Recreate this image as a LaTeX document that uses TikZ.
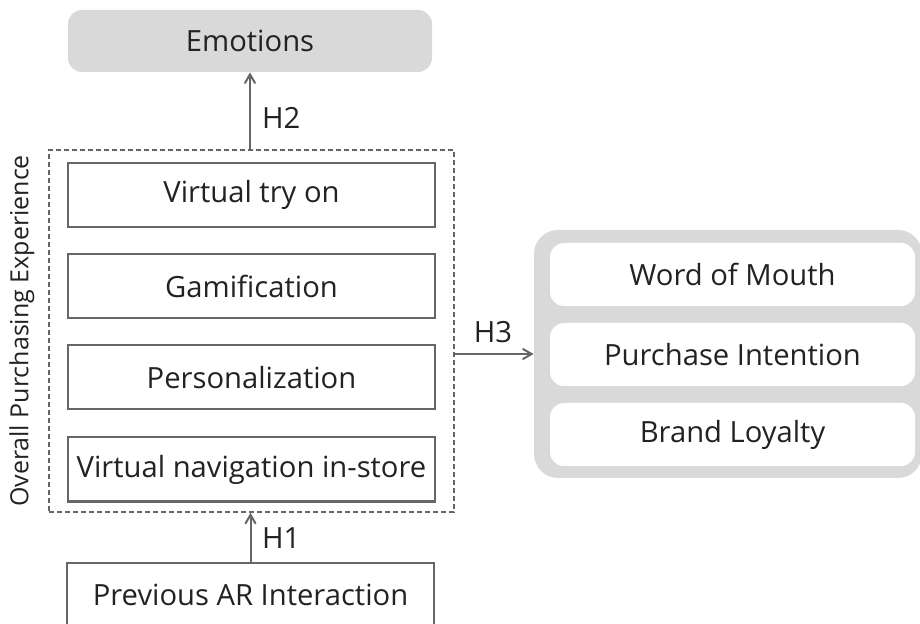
\documentclass[tikz,border=0pt]{standalone}
\usepackage{fontspec}
\setmainfont{Open Sans}
\usetikzlibrary{positioning}
\usetikzlibrary{arrows}
\definecolor{panelgray}{HTML}{D9D9D9}
\definecolor{edgegray}{HTML}{666666}
\definecolor{inkgray}{HTML}{222222}

\begin{document}
\begin{tikzpicture}[x=0.5pt,y=-0.5pt,
  font=\fontsize{14.6}{17}\selectfont, text=inkgray,
  factor/.style={draw=edgegray, line width=1pt, minimum width=183.5pt, minimum height=32pt, inner sep=0pt},
  outcome/.style={fill=white, rounded corners=7pt, minimum width=182.5pt, minimum height=31.5pt, inner sep=0pt},
  hyp/.style={draw=edgegray, line width=1pt, ->, >=angle 60}]

  \useasboundingbox (0,0) rectangle (920,624);

  % top and right panels
  \node[fill=panelgray, rounded corners=7pt, minimum width=182pt, minimum height=31pt, inner sep=0pt] (emo) at (250,41) {Emotions};
  \node[fill=panelgray, rounded corners=12pt, minimum width=194pt, minimum height=124pt, inner sep=0pt] (grp) at (728,354) {};

  \node[outcome] (wom) at (732.5,274.5) {Word of Mouth};
  \node[outcome] (pint) at (732.5,354.5) {Purchase Intention};
  \node[outcome] (loyal) at (732.5,434.5) {Brand Loyalty};

  % overall purchasing experience
  \node[draw=edgegray, dash pattern=on 2.5pt off 1.5pt, line width=0.8pt, minimum width=202.5pt, minimum height=181pt, inner sep=0pt] (opx) at (251.5,331) {};
  \node[rotate=90, font=\fontsize{12.5}{15}\selectfont] (opxlab) at (22,331) {Overall Purchasing Experience};

  \node[factor] (tryon) at (251.5,195) {Virtual try on};
  \node[factor] (gamif) at (251.5,286.5) {Gamification};
  \node[factor] (pers) at (251.5,377.5) {Personalization};
  \node[factor] (nav) at (251.5,469.5) {Virtual navigation in-store};

  \node[factor] (prev) at (250.5,595) {Previous AR Interaction};

  % hypotheses
  \draw[hyp] (prev.north) -- (prev.north |- opx.south);
  \draw[hyp] (opx.north -| emo) -- (emo.south);
  \draw[hyp] (opx.east |- grp) -- (grp.west);

  \node[anchor=west] (hone) at (255,538) {H1};
  \node[anchor=west] (htwo) at (255,118) {H2};
  \node (hthree) at (493,332) {H3};
\end{tikzpicture}
\end{document}
